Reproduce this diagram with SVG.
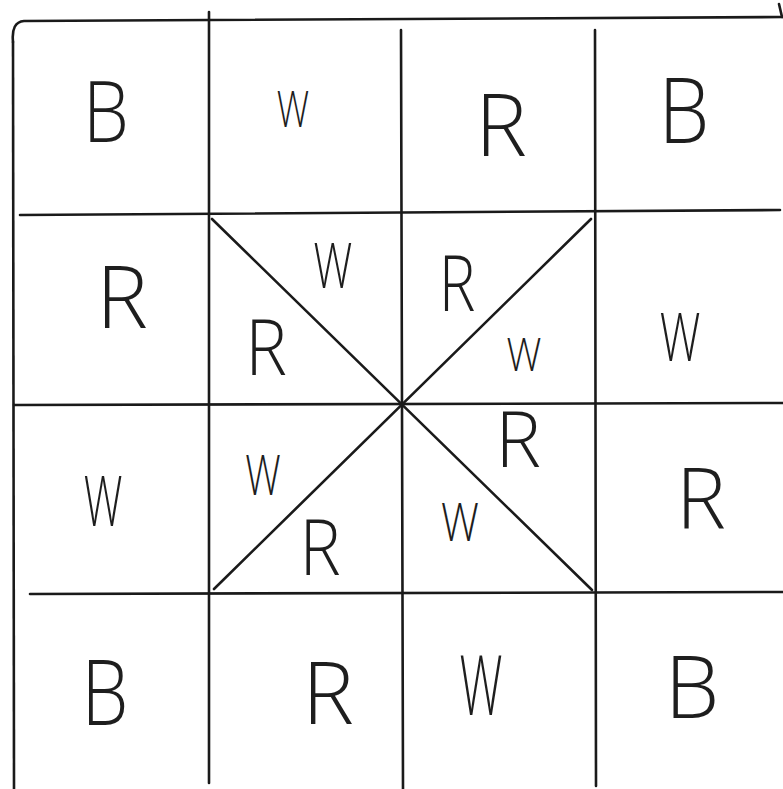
<svg xmlns="http://www.w3.org/2000/svg" width="783" height="789" viewBox="0 0 783 789">
<style>
.ln{stroke:#1a1a1a;stroke-width:2.6;fill:none;stroke-linecap:round}
.lt{font-family:"Open Sans","Liberation Sans",sans-serif;font-weight:300;fill:#1e1e1e;text-anchor:middle}
</style>
<rect width="783" height="789" fill="#ffffff"/>
<g id="connectors">
<path class="ln" d="M13,42 Q11,22 24,21 L783,17"/>
<path class="ln" d="M779,4 L782,17"/>
<line class="ln" x1="13" y1="42" x2="14" y2="789"/>
<line class="ln" x1="209" y1="12" x2="209" y2="783"/>
<line class="ln" x1="401" y1="30" x2="403" y2="789"/>
<line class="ln" x1="595" y1="30" x2="596" y2="786"/>
<line class="ln" x1="20" y1="215" x2="780" y2="210"/>
<line class="ln" x1="14" y1="405" x2="783" y2="403"/>
<line class="ln" x1="30" y1="594" x2="783" y2="592"/>
<line class="ln" x1="212" y1="219" x2="592" y2="590"/>
<line class="ln" x1="591" y1="219" x2="214" y2="589"/>
</g>
<g id="c11" transform="translate(106,142) scale(0.87,1)"><text class="lt" font-size="84">B</text></g>
<g id="c12" transform="translate(293,127) scale(0.74,1)"><text class="lt" font-size="49">W</text></g>
<g id="c13" transform="translate(501,156) scale(1,1)"><text class="lt" font-size="87">R</text></g>
<g id="c14" transform="translate(684,143) scale(0.89,1)"><text class="lt" font-size="91">B</text></g>
<g id="c21" transform="translate(122,328) scale(1,1)"><text class="lt" font-size="87">R</text></g>
<g id="c22t" transform="translate(333,288) scale(0.69,1)"><text class="lt" font-size="63">W</text></g>
<g id="c22l" transform="translate(266,375) scale(0.9,1)"><text class="lt" font-size="78">R</text></g>
<g id="c23t" transform="translate(457,311) scale(0.8,1)"><text class="lt" font-size="77">R</text></g>
<g id="c23r" transform="translate(524,371) scale(0.85,1)"><text class="lt" font-size="46">W</text></g>
<g id="c24" transform="translate(680,361) scale(0.68,1)"><text class="lt" font-size="67">W</text></g>
<g id="c31" transform="translate(103,526) scale(0.62,1)"><text class="lt" font-size="70">W</text></g>
<g id="c32l" transform="translate(263,495) scale(0.71,1)"><text class="lt" font-size="56">W</text></g>
<g id="c32b" transform="translate(320,575) scale(0.9,1)"><text class="lt" font-size="77">R</text></g>
<g id="c33t" transform="translate(518,467) scale(1,1)"><text class="lt" font-size="77">R</text></g>
<g id="c33b" transform="translate(460,541) scale(0.8,1)"><text class="lt" font-size="53">W</text></g>
<g id="c34" transform="translate(701,528) scale(1,1)"><text class="lt" font-size="84">R</text></g>
<g id="c41" transform="translate(105,725) scale(0.83,1)"><text class="lt" font-size="90">B</text></g>
<g id="c42" transform="translate(328,724) scale(1,1)"><text class="lt" font-size="87">R</text></g>
<g id="c43" transform="translate(481,715) scale(0.58,1)"><text class="lt" font-size="83">W</text></g>
<g id="c44" transform="translate(692,718) scale(1,1)"><text class="lt" font-size="87">B</text></g>
</svg>
